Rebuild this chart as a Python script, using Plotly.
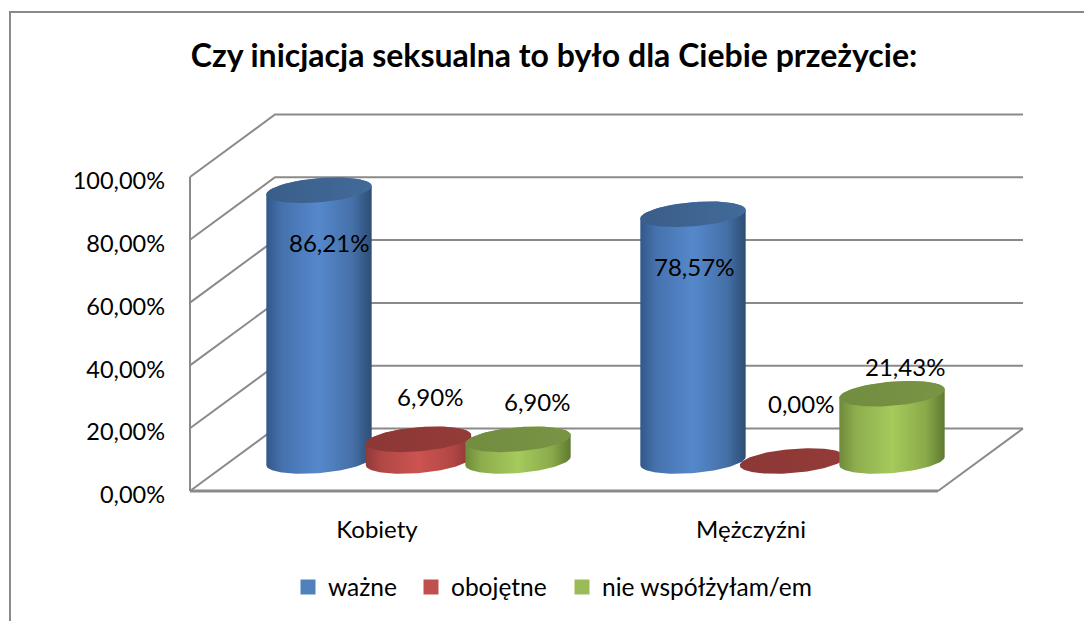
import numpy as np
import plotly.graph_objects as go

# ---- data ----
CATEGORIES = ["Kobiety", "Mężczyźni"]
SERIES_NAMES = ["ważne", "obojętne", "nie współżyłam/em"]
WAZNE = [86.21, 78.57]
OBOJETNE = [6.90, 0.00]
NIE_WSPOLZYLAM = [6.90, 21.43]
TITLE = "Czy inicjacja seksualna to było dla Ciebie przeżycie:"
Y_TICKS = [0, 20, 40, 60, 80, 100]
Y_TICK_LABELS = ["0,00%", "20,00%", "40,00%", "60,00%", "80,00%", "100,00%"]

# ---- style ----
W, H = 1084, 621
FONT = "Lato"
GRID = "#8a8a8a"
PX_X = 374.0            # px per category
PX_Y = 3.14             # px per percent
LEFT, FLOOR = 190, 491  # px position of the plot origin
DX = 85 / PX_X          # depth offset in category units
DY = 62.5 / PX_Y        # depth offset in percent units
BAR_STEP = 99.5 / PX_X
BAR_A = 49.7 / PX_X
BAR_RD = 0.205
BAR_DEPTH = 0.48
BAR_NUDGE = 0.7 / PX_X
BLUE = dict(legend="#4f81bd", edge_l="#33588a", edge_r="#2d4d73", mid="#5588cb", top_l="#3a5e88", top_r="#426a9a")
RED = dict(legend="#c0504d", edge_l="#8f3a38", edge_r="#8a3634", mid="#cc5350", top_l="#8c3836", top_r="#933b39")
GREEN = dict(legend="#9bbb59", edge_l="#6f8a3a", edge_r="#5f7a30", mid="#a6ca5c", top_l="#728c40", top_r="#7a9446")
# label shift from the cylinder top centre (px, x right / y up)
LABEL_SHIFT = [
    [(10, -52), (1, -52)],
    [(11, 43), (8, 58)],
    [(19, 38), (13, 27)],
]


def proj(x, v, d):
    return x + d * DX, v + d * DY


def mix(a, b, t):
    a = [int(a[i:i + 2], 16) for i in (1, 3, 5)]
    b = [int(b[i:i + 2], 16) for i in (1, 3, 5)]
    return "#" + "".join(f"{round(p + (q - p) * t):02x}" for p, q in zip(a, b))


def ramp(c):
    return [[0, c["edge_l"]], [0.15, mix(c["edge_l"], c["mid"], 0.55)], [0.5, c["mid"]],
            [0.82, mix(c["edge_r"], c["mid"], 0.6)], [1, c["edge_r"]]]


def ring(cx, v, t):
    S = BAR_RD * DX
    return cx + BAR_A * np.cos(t) + S * np.sin(t), v + BAR_RD * DY * np.sin(t)


def cylinder(fig, cat_x, v, col):
    cx, base = proj(cat_x, 0, BAR_DEPTH)
    top = base + v
    t0 = np.arctan2(BAR_RD * DX, BAR_A)
    ta = np.linspace(t0, t0 + np.pi, 60)
    tb = np.linspace(t0 + np.pi, t0 + 2 * np.pi, 60)
    xa, ya = ring(cx, top, ta)
    xb, yb = ring(cx, base, tb)
    if v > 0:
        fig.add_trace(go.Scatter(
            x=np.r_[xa, xb], y=np.r_[ya, yb], mode="lines", line=dict(width=0), fill="toself",
            fillgradient=dict(type="horizontal", colorscale=ramp(col)),
            showlegend=False, hoverinfo="skip"))
    tt = np.linspace(0, 2 * np.pi, 120)
    xt, yt = ring(cx, top, tt)
    fig.add_trace(go.Scatter(
        x=xt, y=yt, mode="lines", line=dict(width=0), fill="toself",
        fillgradient=dict(type="horizontal", colorscale=[[0, col["top_l"]], [1, col["top_r"]]]),
        showlegend=False, hoverinfo="skip"))
    return cx, top


fig = go.Figure()


def grid_line(xs, ys, width=2):
    fig.add_trace(go.Scatter(x=xs, y=ys, mode="lines", line=dict(color=GRID, width=width),
                             showlegend=False, hoverinfo="skip"))


n = len(CATEGORIES)
for v in Y_TICKS:
    bx, by = proj(0, v, 1)
    ex, ey = proj(n, v, 1)
    grid_line([0, bx, ex], [v, by, ey])
fx, fy = proj(n, 0, 1)
grid_line([n, fx], [0, fy])
grid_line([0, 0], [0, Y_TICKS[-1]])
grid_line([0, n], [0, 0], 3)

annotations = []
for i in range(n):
    for s, (vals, col) in enumerate(zip([WAZNE, OBOJETNE, NIE_WSPOLZYLAM], [BLUE, RED, GREEN])):
        cat_x = i + 0.5 + (s - 1) * BAR_STEP + BAR_NUDGE
        cx, top = cylinder(fig, cat_x, vals[i], col)
        sx, sy = LABEL_SHIFT[s][i]
        annotations.append(dict(
            x=cx, y=top, xref="x", yref="y", xshift=sx, yshift=sy, showarrow=False,
            text=f"{vals[i]:.2f}%".replace(".", ","), font=dict(family=FONT, size=24, color="#000"),
            xanchor="center", yanchor="middle"))

legend_text_x = [328, 451, 602]
legend_layouts = {}
for k, (name, col) in enumerate(zip(SERIES_NAMES, [BLUE, RED, GREEN])):
    key = "legend" if k == 0 else f"legend{k + 1}"
    fig.add_trace(go.Scatter(x=[None], y=[None], mode="markers", name=name, legend=key,
                             marker=dict(symbol="square", size=15, color=col["legend"]),
                             hoverinfo="skip", showlegend=True))
    legend_layouts[key] = dict(
        x=(legend_text_x[k] - 40) / W, y=1 - 587 / H, xanchor="left", yanchor="middle",
        bgcolor="rgba(0,0,0,0)", font=dict(family=FONT, size=24.5, color="#000"),
        borderwidth=0, itemclick=False, itemdoubleclick=False)

fig.update_layout(
    width=W, height=H, autosize=False, margin=dict(l=0, r=0, t=0, b=0, autoexpand=False),
    paper_bgcolor="white", plot_bgcolor="rgba(0,0,0,0)",
    font=dict(family=FONT, color="#000"),
    title=dict(text=f"<b>{TITLE}</b>", x=554 / W, y=1 - 56 / H, xanchor="center", yanchor="middle",
               font=dict(family=FONT, size=32, color="#000")),
    xaxis=dict(domain=[0, 1], range=[-LEFT / PX_X, (W - LEFT) / PX_X], tickmode="array",
               anchor="free", position=1 - FLOOR / H,
               tickvals=[i + 0.5 for i in range(n)], ticktext=CATEGORIES, showgrid=False, zeroline=False,
               showline=False, ticks="", ticklabelstandoff=22,
               tickfont=dict(family=FONT, size=24, color="#000"), fixedrange=True),
    yaxis=dict(domain=[0, 1], range=[-(H - FLOOR) / PX_Y, FLOOR / PX_Y], tickmode="array",
               anchor="free", position=LEFT / W,
               tickvals=Y_TICKS, ticktext=Y_TICK_LABELS, showgrid=False, zeroline=False,
               showline=False, ticks="", ticklabelstandoff=25, ticklabelshift=4,
               tickfont=dict(family=FONT, size=23.5, color="#000"), fixedrange=True),
    annotations=annotations,
    shapes=[dict(type="path", xref="paper", yref="paper",
                 path=f"M {10 / W} 0 L {10 / W} {1 - 12 / H} L 1 {1 - 12 / H}",
                 line=dict(color=GRID, width=2))],
    **legend_layouts,
)

fig.write_html("out.html", config=dict(displayModeBar=False),
               post_script="document.body.style.margin='0';document.documentElement.style.overflow='hidden';")
